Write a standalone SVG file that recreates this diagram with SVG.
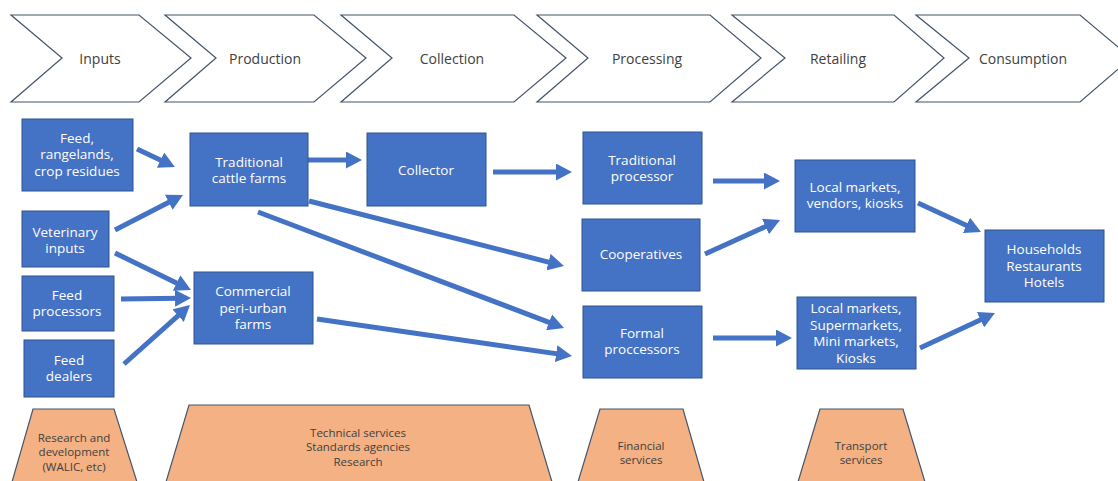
<svg xmlns="http://www.w3.org/2000/svg" width="1118" height="481" viewBox="0 0 1118 481">
<defs>
<style>
.chev{fill:#fff;stroke:#44546A;stroke-width:1.2}
.ct{font-family:"Open Sans","Noto Sans",sans-serif;font-size:14px;fill:#404040;text-anchor:middle;dominant-baseline:central}
.box{fill:#4472C4;stroke:#2F528F;stroke-width:1}
.bt{font-family:"Open Sans","Noto Sans",sans-serif;font-size:13.5px;fill:#fff;text-anchor:middle;dominant-baseline:central}
.trap{fill:#F4B183;stroke:#44546A;stroke-width:1.2}
.tt{font-family:"Open Sans","Noto Sans",sans-serif;font-size:11.5px;fill:#404040;text-anchor:middle;dominant-baseline:central}
.arr{stroke:#4472C4;stroke-width:5;fill:none;marker-end:url(#ah)}
</style>
<marker id="ah" markerUnits="userSpaceOnUse" markerWidth="16" markerHeight="17" refX="5" refY="8.5" orient="auto">
<path d="M0,0 L16,8.5 L0,17 Z" fill="#4472C4"/>
</marker>
</defs>
<rect width="1118" height="481" fill="#fff"/>
<g id="stages">
<g id="stage-inputs"><path class="chev" d="M11,15 L139,15 L191,58 L139,102 L11,102 L62,58 Z"/><text class="ct" x="100" y="58">Inputs</text></g>
<g id="stage-production"><path class="chev" d="M165,15 L314,15 L366,58 L314,102 L165,102 L216,58 Z"/><text class="ct" x="265" y="58">Production</text></g>
<g id="stage-collection"><path class="chev" d="M341,15 L514,15 L566,58 L514,102 L341,102 L392,58 Z"/><text class="ct" x="452" y="58">Collection</text></g>
<g id="stage-processing"><path class="chev" d="M537,15 L710,15 L761,58 L710,102 L537,102 L588,58 Z"/><text class="ct" x="647" y="58">Processing</text></g>
<g id="stage-retailing"><path class="chev" d="M732,15 L894,15 L944,58 L894,102 L732,102 L785,58 Z"/><text class="ct" x="838" y="58">Retailing</text></g>
<g id="stage-consumption"><path class="chev" d="M916,15 L1080,15 L1131,58 L1080,102 L916,102 L969,58 Z"/><text class="ct" x="1023" y="58">Consumption</text></g>
</g>
<g id="connectors">
<line class="arr" x1="137" y1="149" x2="165" y2="162.3"/>
<line class="arr" x1="308" y1="160" x2="351" y2="160"/>
<line class="arr" x1="493" y1="172" x2="561" y2="172"/>
<line class="arr" x1="115" y1="230" x2="173.2" y2="200.0"/>
<line class="arr" x1="115" y1="253" x2="181.1" y2="285.2"/>
<line class="arr" x1="121" y1="299" x2="180" y2="298.2"/>
<line class="arr" x1="124" y1="364" x2="181.8" y2="312.3"/>
<line class="arr" x1="309" y1="201" x2="553.3" y2="263.3"/>
<line class="arr" x1="258" y1="212" x2="553.7" y2="324.1"/>
<line class="arr" x1="317" y1="319" x2="561.1" y2="354.4"/>
<line class="arr" x1="713" y1="181" x2="769" y2="181"/>
<line class="arr" x1="705" y1="254" x2="770" y2="224.5"/>
<line class="arr" x1="713" y1="338" x2="781" y2="338"/>
<line class="arr" x1="918" y1="203" x2="971" y2="227.4"/>
<line class="arr" x1="920" y1="348" x2="985" y2="317.7"/>
</g>
<g id="feed-rangelands"><rect class="box" x="22" y="119" width="111" height="72"/><text class="bt" x="77" y="137.5">Feed,</text><text class="bt" x="77" y="154">rangelands,</text><text class="bt" x="77" y="170.5">crop residues</text></g>
<g id="veterinary-inputs"><rect class="box" x="22" y="211" width="87" height="56"/><text class="bt" x="65" y="231.5">Veterinary</text><text class="bt" x="65" y="248">inputs</text></g>
<g id="feed-processors"><rect class="box" x="22" y="276" width="92" height="55"/><text class="bt" x="67" y="294.5">Feed</text><text class="bt" x="67" y="311">processors</text></g>
<g id="feed-dealers"><rect class="box" x="24" y="340" width="90" height="57"/><text class="bt" x="69" y="359.5">Feed</text><text class="bt" x="69" y="376">dealers</text></g>
<g id="traditional-cattle-farms"><rect class="box" x="190" y="133" width="118" height="73"/><text class="bt" x="249" y="161.5">Traditional</text><text class="bt" x="249" y="178">cattle farms</text></g>
<g id="commercial-farms"><rect class="box" x="194" y="272" width="119" height="72"/><text class="bt" x="253" y="291">Commercial</text><text class="bt" x="253" y="307.5">peri-urban</text><text class="bt" x="253" y="324">farms</text></g>
<g id="collector"><rect class="box" x="367" y="133" width="119" height="73"/><text class="bt" x="426" y="170">Collector</text></g>
<g id="traditional-processor"><rect class="box" x="583" y="132" width="119" height="72"/><text class="bt" x="642" y="159.5">Traditional</text><text class="bt" x="642" y="176">processor</text></g>
<g id="cooperatives"><rect class="box" x="582" y="219" width="118" height="72"/><text class="bt" x="641" y="254">Cooperatives</text></g>
<g id="formal-processors"><rect class="box" x="583" y="306" width="119" height="72"/><text class="bt" x="642" y="332.5">Formal</text><text class="bt" x="642" y="349">proccessors</text></g>
<g id="local-markets-vendors"><rect class="box" x="795" y="160" width="120" height="72"/><text class="bt" x="855" y="186.5">Local markets,</text><text class="bt" x="855" y="203">vendors, kiosks</text></g>
<g id="local-markets-supermarkets"><rect class="box" x="797" y="297" width="119" height="72"/><text class="bt" x="856" y="308">Local markets,</text><text class="bt" x="856" y="324.5">Supermarkets,</text><text class="bt" x="856" y="341">Mini markets,</text><text class="bt" x="856" y="357.5">Kiosks</text></g>
<g id="households"><rect class="box" x="985" y="230" width="119" height="72"/><text class="bt" x="1044" y="249">Households</text><text class="bt" x="1044" y="265.5">Restaurants</text><text class="bt" x="1044" y="282">Hotels</text></g>
<g id="research-development"><path class="trap" d="M33,409 L114,409 L137,482 L12,482 Z"/><text class="tt" x="74" y="437">Research and</text><text class="tt" x="74" y="451.5">development</text><text class="tt" x="74" y="466">(WALIC, etc)</text></g>
<g id="technical-services"><path class="trap" d="M189,405 L529,405 L552,482 L166,482 Z"/><text class="tt" x="358" y="432">Technical services</text><text class="tt" x="358" y="446.5">Standards agencies</text><text class="tt" x="358" y="461">Research</text></g>
<g id="financial-services"><path class="trap" d="M600,409 L683,409 L704,482 L578,482 Z"/><text class="tt" x="641" y="445">Financial</text><text class="tt" x="641" y="459.5">services</text></g>
<g id="transport-services"><path class="trap" d="M820,409 L903,409 L925,482 L798,482 Z"/><text class="tt" x="861" y="445">Transport</text><text class="tt" x="861" y="459.5">services</text></g>
</svg>
